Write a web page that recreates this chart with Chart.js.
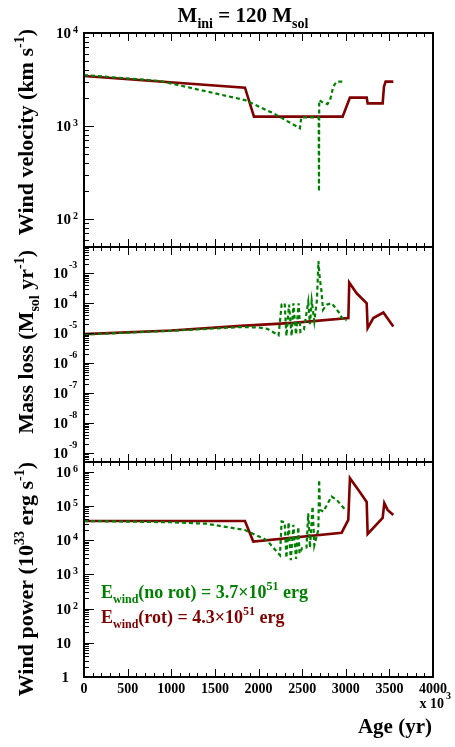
<!DOCTYPE html>
<html>
<head>
<meta charset="utf-8">
<script src="https://cdn.jsdelivr.net/npm/chart.js@4.4.0/dist/chart.umd.min.js"></script>
<style>
  html, body { margin: 0; padding: 0; background: #fff; }
  #wrap { position: relative; width: 455px; height: 747px; }
  #wrap canvas { position: absolute; left: 0; top: 0; }
</style>
</head>
<body>
<div id="wrap">
  <canvas id="velChart" width="455" height="747"></canvas>
  <canvas id="massChart" width="455" height="747"></canvas>
  <canvas id="powerChart" width="455" height="747"></canvas>
</div>
<script>
// ages in units of 10^3 yr
const AGE_TICKS = [0, 500, 1000, 1500, 2000, 2500, 3000, 3500, 4000];

// wind velocity (km/s)
const velNoRotAge = [0, 870, 1845, 2170, 2475, 2490, 2690, 2693, 2696, 2740, 2790, 2820, 2857, 2895, 2990];
const velNoRot    = [3530, 3050, 1900, 1370, 945, 1240, 1240, 197, 1900, 1780, 1720, 1900, 2650, 3000, 3000];
const velRotAge   = [0, 1845, 1948, 2964, 3048, 3240, 3251, 3423, 3438, 3457, 3545];
const velRot      = [3450, 2580, 1260, 1260, 2020, 2020, 1750, 1750, 2650, 3000, 3000];

// mass loss (Msol/yr)
const mdotNoRotAge = [0, 1000, 1800, 2000, 2100, 2230, 2265, 2300, 2320, 2350, 2380, 2400, 2430, 2460, 2480,
                      2520, 2570, 2590, 2610, 2640, 2670, 2687, 2700, 2720, 2740, 2780, 2840, 2920, 2970, 3010];
const mdotNoRot    = [9.0e-6, 1.2e-5, 1.6e-5, 1.55e-5, 1.4e-5, 8.5e-6, 9e-5, 1e-4, 8e-6, 9e-5, 8e-6, 1e-4, 9e-6, 1e-4, 1.1e-5,
                      1.3e-5, 1.1e-4, 2e-5, 1.2e-4, 2.5e-5, 1.3e-4, 2.6e-3, 7.7e-4, 2.8e-4, 6e-5, 9e-5, 1e-4, 5e-5, 2.8e-5, 2.7e-5];
const mdotRotAge   = [0, 1000, 1800, 2400, 3030, 3040, 3125, 3240, 3251, 3316, 3431, 3545];
const mdotRot      = [9.3e-6, 1.23e-5, 1.75e-5, 2.2e-5, 3.2e-5, 4.9e-4, 2.15e-4, 1e-4, 1.47e-5, 3.2e-5, 4.9e-5, 1.66e-5];

// wind power (10^33 erg/s)
const powNoRotAge = [0, 1000, 1400, 1845, 2093, 2246, 2265, 2300, 2320, 2345, 2370, 2400, 2430, 2456, 2470, 2500,
                     2550, 2570, 2590, 2620, 2640, 2686, 2695, 2705, 2742, 2838, 2895, 2990];
const powNoRot    = [3.6e4, 3.3e4, 3.0e4, 1.96e4, 1.0e4, 3.6e3, 3.5e4, 3.3e4, 3e3, 3.3e4, 2.6e3, 2.8e4, 2.8e3, 2.4e4, 4e3, 5.8e3,
                     6e3, 6e4, 6e3, 9.5e4, 7e3, 2e4, 5.7e5, 7.6e4, 6.8e4, 1.87e5, 1.5e5, 7.9e4];
const powRotAge   = [0, 1845, 1940, 2953, 3029, 3048, 3145, 3240, 3251, 3423, 3442, 3480, 3545];
const powRot      = [3.6e4, 3.6e4, 9e3, 1.64e4, 3.9e4, 6.4e5, 2.9e5, 1.3e5, 1.5e4, 4.4e4, 1.2e5, 7.6e4, 5.4e4];

const W = 455, H = 747;
const PLOT_LEFT = 84, PLOT_RIGHT = 433;
const GREEN = '#008000', RED = '#800000';
const SERIF = '"Liberation Serif", "Times New Roman", serif';

function font(size, kind) {
  const s = kind ? Math.round(size * 0.65) : size;
  return 'bold ' + s + 'px ' + SERIF;
}

// draws [text, kind] pieces, kind = '' | 'sub' | 'sup'
function drawRich(ctx, parts, x, y, size, align) {
  const widths = parts.map(([t, k]) => { ctx.font = font(size, k); return ctx.measureText(t).width; });
  const total = widths.reduce((a, b) => a + b, 0);
  let cx = align === 'right' ? x - total : align === 'center' ? x - total / 2 : x;
  ctx.textAlign = 'left';
  ctx.textBaseline = 'alphabetic';
  parts.forEach(([t, k], i) => {
    ctx.font = font(size, k);
    const dy = k === 'sup' ? -size * 0.42 : k === 'sub' ? size * 0.28 : 0;
    ctx.fillText(t, cx, y + dy);
    cx += widths[i];
  });
}

function drawRotated(ctx, parts, xBase, yEnd, size) {
  ctx.save();
  ctx.translate(xBase, yEnd);
  ctx.rotate(-Math.PI / 2);
  drawRich(ctx, parts, 0, 0, size, 'right');
  ctx.restore();
}

function hline(ctx, x1, y1, x2, y2) {
  ctx.beginPath();
  ctx.moveTo(x1, y1);
  ctx.lineTo(x2, y2);
  ctx.stroke();
}

// ROOT-like frame: inward ticks, log minor ticks, labels
const rootAxes = {
  id: 'rootAxes',
  afterDatasetsDraw(chart, args, opts) {
    const { ctx, chartArea: a } = chart;
    const x = chart.scales.x, y = chart.scales.y;
    ctx.save();
    ctx.strokeStyle = '#000';
    ctx.fillStyle = '#000';

    ctx.lineWidth = 1;
    for (let v = 0; v <= 4000; v += 100) {
      const px = Math.round(x.getPixelForValue(v)) + 0.5;
      const len = v % 500 === 0 ? 8 : 4;
      hline(ctx, px, a.bottom, px, a.bottom - len);
      hline(ctx, px, a.top, px, a.top + len);
    }

    const e0 = Math.floor(Math.log10(y.min)), e1 = Math.ceil(Math.log10(y.max));
    for (let e = e0; e <= e1; e++) {
      for (let m = 1; m <= 9; m++) {
        const v = m * Math.pow(10, e);
        if (v < y.min * 0.999 || v > y.max * 1.001) continue;
        const py = Math.round(y.getPixelForValue(v)) + 0.5;
        hline(ctx, a.left, py, a.left + (m === 1 ? 10 : 5), py);
      }
    }

    ctx.lineWidth = 2;
    ctx.strokeRect(a.left, a.top, a.right - a.left, a.bottom - a.top);

    // y tick labels
    opts.decades.forEach(e => {
      const py = y.getPixelForValue(Math.pow(10, e));
      if (opts.expStyle === 'high') {
        drawRich(ctx, [['10', '']], 68, py + 5, 15, 'right');
        drawRich(ctx, [[String(e), '']], 69, py - 5, 10, 'left');
      } else if (e === 0) {
        drawRich(ctx, [['1', '']], 69, py + 5, 15, 'right');
      } else if (e === 1) {
        drawRich(ctx, [['10', '']], 71, py + 5, 15, 'right');
      } else {
        drawRich(ctx, [['10', '']], 71, py + 5, 15, 'right');
        drawRich(ctx, [[String(e), '']], 73, py, 10, 'left');
      }
    });

    drawRotated(ctx, opts.yTitle, 33, opts.yTitleEnd, 22);

    if (opts.xLabels) {
      AGE_TICKS.forEach(v => {
        drawRich(ctx, [[String(v), '']], x.getPixelForValue(v), 693, 14, 'center');
      });
      drawRich(ctx, [['x 10', '']], 444, 708, 14, 'right');
      drawRich(ctx, [['3', '']], 446, 699, 10, 'left');
      drawRich(ctx, [['Age (yr)', '']], 432, 733, 21, 'right');
    }

    if (opts.after) opts.after(ctx, a);
    ctx.restore();
  }
};

function series(ages, vals, rotating) {
  return {
    data: ages.map((t, i) => ({ x: t, y: vals[i] })),
    borderColor: rotating ? RED : GREEN,
    borderWidth: rotating ? 2.6 : 2.2,
    borderDash: rotating ? [] : [4, 3],
    pointRadius: 0,
    tension: 0,
    fill: false
  };
}

function makePanel(id, top, bottom, yMin, yMax, datasets, decor) {
  return new Chart(document.getElementById(id), {
    type: 'line',
    data: { datasets },
    options: {
      responsive: false,
      animation: false,
      devicePixelRatio: 1,
      events: [],
      layout: { padding: { left: PLOT_LEFT, right: W - PLOT_RIGHT, top, bottom: H - bottom } },
      scales: {
        x: { type: 'linear', min: 0, max: 4000, display: false },
        y: { type: 'logarithmic', min: yMin, max: yMax, display: false }
      },
      plugins: { legend: { display: false }, tooltip: { enabled: false }, rootAxes: decor }
    },
    plugins: [rootAxes]
  });
}

makePanel('velChart', 33, 247, 50, 1e4,
  [series(velNoRotAge, velNoRot, false), series(velRotAge, velRot, true)],
  {
    decades: [2, 3, 4],
    yTitle: [['Wind velocity (km s', ''], ['-1', 'sup'], [')', '']],
    yTitleEnd: 29,
    after(ctx) {
      drawRich(ctx, [['M', ''], ['ini', 'sub'], [' = 120 M', ''], ['sol', 'sub']], 243, 22, 21, 'center');
    }
  });

makePanel('massChart', 247, 462, 4.9e-10, 7.6e-3,
  [series(mdotNoRotAge, mdotNoRot, false), series(mdotRotAge, mdotRot, true)],
  {
    decades: [-9, -8, -7, -6, -5, -4, -3],
    expStyle: 'high',
    yTitle: [['Mass loss (M', ''], ['sol', 'sub'], [' yr', ''], ['-1', 'sup'], [')', '']],
    yTitleEnd: 250
  });

makePanel('powerChart', 462, 677, 1, 1.9e6,
  [series(powNoRotAge, powNoRot, false), series(powRotAge, powRot, true)],
  {
    decades: [0, 1, 2, 3, 4, 5, 6],
    xLabels: true,
    yTitle: [['Wind power (10', ''], ['33', 'sup'], [' erg s', ''], ['-1', 'sup'], [')', '']],
    yTitleEnd: 462,
    after(ctx) {
      ctx.fillStyle = GREEN;
      drawRich(ctx, [['E', ''], ['wind', 'sub'], ['(no rot) = 3.7\u00d710', ''], ['51', 'sup'], [' erg', '']], 101, 598, 18, 'left');
      ctx.fillStyle = RED;
      drawRich(ctx, [['E', ''], ['wind', 'sub'], ['(rot) = 4.3\u00d710', ''], ['51', 'sup'], [' erg', '']], 101, 623, 18, 'left');
    }
  });
</script>
</body>
</html>
